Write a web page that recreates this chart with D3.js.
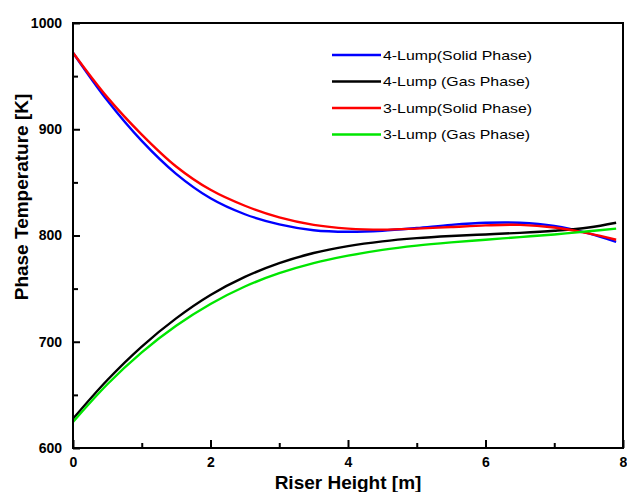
<!DOCTYPE html>
<html>
<head>
  <meta charset="utf-8">
  <title>Phase Temperature vs Riser Height</title>
  <style>
    html, body {
      margin: 0;
      padding: 0;
      background: #fff;
      overflow: hidden;
    }
    svg text {
      font-family: "Liberation Sans", Arial, sans-serif;
    }
    .axis text {
      font-size: 14px;
      font-weight: bold;
      fill: #000;
    }
    .axis line {
      stroke: #000;
      stroke-width: 2px;
    }
    .axis path {
      display: none;
    }
    .title {
      font-size: 19px;
      font-weight: bold;
    }
    .curve {
      fill: none;
      stroke-width: 2.4px;
    }
    .legend text {
      font-size: 13px;
    }
  </style>
</head>
<body>
  <div id="chart"></div>

  <script src="https://d3js.org/d3.v7.min.js"></script>
  <script>
    // Riser height samples (m)
    const heights = [0, 0.5, 1, 1.5, 2, 2.5, 3, 3.5, 4, 4.5, 5, 5.5, 6, 6.5, 7, 7.5, 7.9];

    // Temperatures (K)
    const solid4 = [972, 927, 889, 858, 835, 820, 810.5, 805, 803.5, 804.5, 807, 810, 812, 812, 809, 802, 794];
    const gas4   = [627.5, 664, 695.5, 722, 744, 761, 774, 783.5, 790, 794.5, 797.5, 799.5, 801, 802.5, 804.5, 807.5, 812];
    const solid3 = [972, 930, 895, 865, 843, 828, 817, 810, 806.5, 805.5, 806.5, 808, 809.5, 810, 807.5, 802, 796];
    const gas3   = [624.5, 660, 690, 715, 735.5, 752, 764.5, 774, 781, 786.5, 790.5, 793.5, 796, 798.5, 801, 804, 806.5];

    const seriesNames = ["4-Lump(Solid Phase)", "4-Lump (Gas Phase)", "3-Lump(Solid Phase)", "3-Lump (Gas Phase)"];
    const seriesColors = ["#0000ff", "#000000", "#ff0000", "#00e600"];
    const seriesValues = [solid4, gas4, solid3, gas3];

    const xMajor = [0, 2, 4, 6, 8];
    const xMinor = [1, 3, 5, 7];
    const yMajor = [600, 700, 800, 900, 1000];
    const yMinor = [650, 750, 850, 950];

    const W = 627, H = 492;
    const margin = {top: 23, right: 4, bottom: 44, left: 73};
    const plotW = W - margin.left - margin.right;
    const plotH = H - margin.top - margin.bottom;

    const svg = d3.select("#chart").append("svg")
      .attr("width", W)
      .attr("height", H);

    const g = svg.append("g")
      .attr("transform", "translate(" + margin.left + "," + margin.top + ")");

    const x = d3.scaleLinear().domain([0, 8]).range([0, plotW]);
    const y = d3.scaleLinear().domain([600, 1000]).range([plotH, 0]);

    // axes with inward ticks
    g.append("g").attr("class", "axis")
      .attr("transform", "translate(0," + plotH + ")")
      .call(d3.axisBottom(x).tickValues(xMajor).tickSize(-8).tickPadding(9).tickFormat(d3.format("d")));
    g.append("g").attr("class", "axis")
      .attr("transform", "translate(0," + plotH + ")")
      .call(d3.axisBottom(x).tickValues(xMinor).tickSize(-5).tickFormat(""));
    g.append("g").attr("class", "axis")
      .call(d3.axisLeft(y).tickValues(yMajor).tickSize(-7).tickPadding(11).tickFormat(d3.format("d")));
    g.append("g").attr("class", "axis")
      .call(d3.axisLeft(y).tickValues(yMinor).tickSize(-5).tickFormat(""));

    // curves
    const line = d3.line()
      .x((d, i) => x(heights[i]))
      .y(d => y(d))
      .curve(d3.curveCatmullRom);

    seriesValues.forEach((vals, k) => {
      g.append("path")
        .attr("class", "curve")
        .attr("stroke", seriesColors[k])
        .attr("d", line(vals));
    });

    // frame
    g.append("rect")
      .attr("width", plotW)
      .attr("height", plotH)
      .attr("fill", "none")
      .attr("stroke", "#000")
      .attr("stroke-width", 2);

    // axis titles
    svg.append("text")
      .attr("class", "title")
      .attr("x", margin.left + plotW / 2)
      .attr("y", 489)
      .attr("text-anchor", "middle")
      .text("Riser Height [m]");

    svg.append("text")
      .attr("class", "title")
      .attr("transform", "translate(28,197) rotate(-90)")
      .attr("text-anchor", "middle")
      .text("Phase Temperature [K]");

    // legend
    const legendWidths = [149, 147, 149, 147];
    const legend = svg.append("g").attr("class", "legend")
      .attr("transform", "translate(332,55)");

    seriesNames.forEach((name, k) => {
      const row = legend.append("g").attr("transform", "translate(0," + (k * 26.5) + ")");
      row.append("line")
        .attr("x1", 0).attr("x2", 49)
        .attr("stroke", seriesColors[k])
        .attr("stroke-width", 2.4);
      row.append("text")
        .attr("x", 51)
        .attr("dy", "0.36em")
        .attr("textLength", legendWidths[k])
        .attr("lengthAdjust", "spacingAndGlyphs")
        .text(name);
    });
  </script>
</body>
</html>
